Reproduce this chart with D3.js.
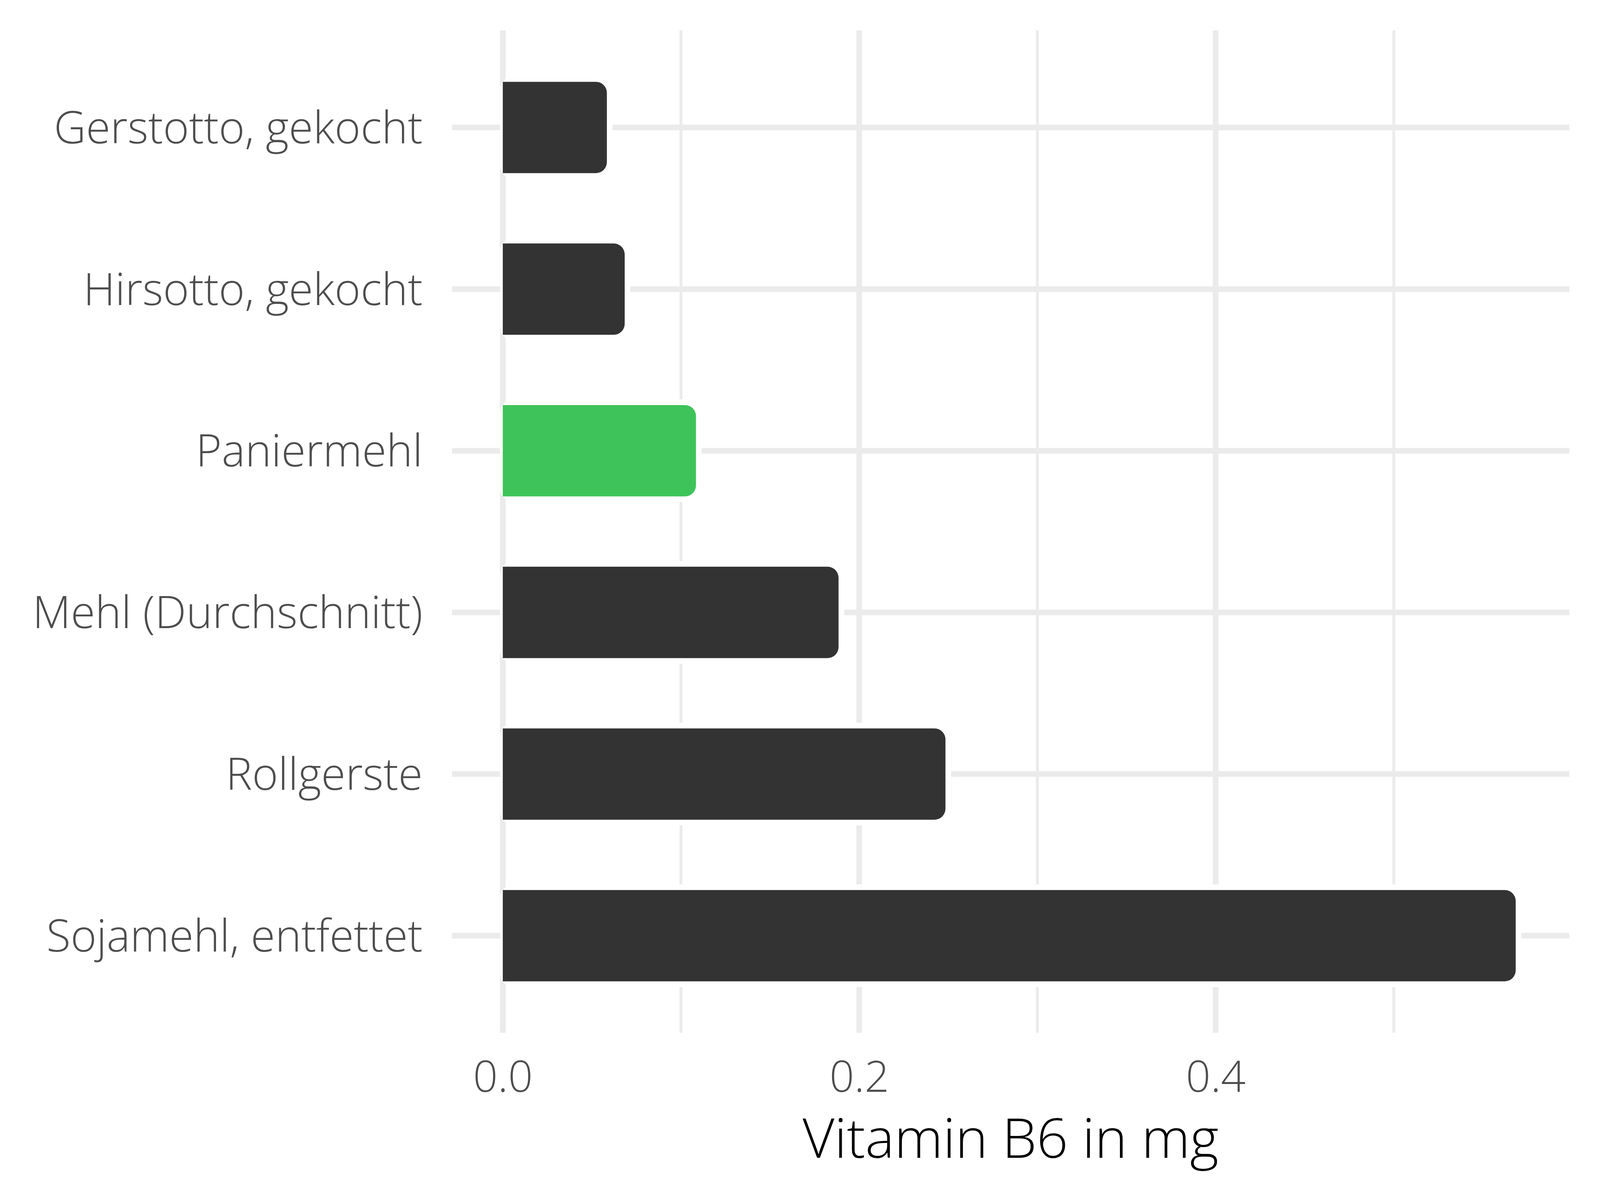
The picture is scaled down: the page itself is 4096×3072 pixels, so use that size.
<!DOCTYPE html>
<html><head><meta charset="utf-8">
<script src="https://cdn.jsdelivr.net/npm/d3@7"></script>
<style>html,body{margin:0;padding:0;background:#fff;overflow:hidden}</style>
</head><body>
<svg id="c" width="4096" height="3072"></svg>
<script>
const categories = ["Gerstotto, gekocht","Hirsotto, gekocht","Paniermehl","Mehl (Durchschnitt)","Rollgerste","Sojamehl, entfettet"];
const values = [0.06,0.07,0.11,0.19,0.25,0.57];
const highlight = ["Paniermehl"];
const majorTicks = [0,0.2,0.4];
const minorTicks = [0.1,0.3,0.5];
const tickLabels = ["0.0","0.2","0.4"];
const axisTitle = "Vitamin B6 in mg";

(function(){
const S = 4096/4800;
const svg = d3.select("#c");
svg.append("rect").attr("width",4096).attr("height",3072).attr("fill","#fff");
const g = svg.append("g").attr("transform",`scale(${S})`);

const pL=1356, pR=4708, pT=91.5, pB=3098;
const x = d3.scaleLinear().domain([-0.0285,0.5985]).range([pL,pR]);
const y = d3.scalePoint().domain(categories).range([pT,pB]).padding(0.6);
const step = y.step();
const bw = step*0.6, sw = 17;
const FONT = "'Open Sans', 'Noto Sans', sans-serif";

g.selectAll(".minor").data(minorTicks).join("line")
  .attr("x1",d=>x(d)).attr("x2",d=>x(d)).attr("y1",pT).attr("y2",pB)
  .attr("stroke","#EBEBEB").attr("stroke-width",8.5);
g.selectAll(".majorx").data(majorTicks).join("line")
  .attr("x1",d=>x(d)).attr("x2",d=>x(d)).attr("y1",pT).attr("y2",pB)
  .attr("stroke","#EBEBEB").attr("stroke-width",17);
g.selectAll(".majory").data(categories).join("line")
  .attr("x1",pL).attr("x2",pR).attr("y1",d=>y(d)).attr("y2",d=>y(d))
  .attr("stroke","#EBEBEB").attr("stroke-width",17);

const data = categories.map((c,i)=>({c,v:values[i]}));
const R = 33;
function outline(d){
  const x0 = x(0)-sw/2, x1 = x(d.v)+sw/2, y0 = y(d.c)-bw/2-sw/2, y1 = y(d.c)+bw/2+sw/2;
  const r = R+sw/2;
  return `M${x0+r},${y0}H${x1-r}A${r},${r} 0 0 1 ${x1},${y0+r}V${y1-r}A${r},${r} 0 0 1 ${x1-r},${y1}H${x0+r}A${r},${r} 0 0 1 ${x0},${y1-r}V${y0+r}A${r},${r} 0 0 1 ${x0+r},${y0}Z`;
}
function fillPath(d){
  const x0 = x(0), x1 = x(d.v)-sw/2, y0 = y(d.c)-bw/2+sw/2, y1 = y(d.c)+bw/2-sw/2;
  const r = R;
  return `M${x0},${y0}H${x1-r}A${r},${r} 0 0 1 ${x1},${y0+r}V${y1-r}A${r},${r} 0 0 1 ${x1-r},${y1}H${x0}Z`;
}
g.selectAll(".bo").data(data).join("path").attr("d",outline).attr("fill","#fff");
g.selectAll(".bf").data(data).join("path").attr("d",fillPath)
  .attr("fill",d=>highlight.includes(d.c)?"#3EC35A":"#333333");

const fsY = 133;
g.selectAll(".yl").data(categories).join("text")
  .attr("x",1268).attr("y",d=>y(d)+0.357*fsY)
  .attr("text-anchor","end").attr("font-family",FONT).attr("font-weight",300)
  .attr("font-size",fsY).attr("fill","#4D4D4D").text(d=>d);

const ax = g.append("g").attr("transform",`translate(0,${pB})`)
  .call(d3.axisBottom(x).tickValues(majorTicks).tickFormat((d,i)=>tickLabels[i]).tickSize(0));
ax.select(".domain").remove();
ax.selectAll("text").attr("y",3275-pB).attr("dy",null)
  .attr("font-family",FONT).attr("font-weight",300).attr("font-size",130).attr("fill","#4D4D4D");

g.append("text").attr("x",(pL+pR)/2).attr("y",3474).attr("text-anchor","middle")
  .attr("font-family",FONT).attr("font-weight",300).attr("font-size",165).attr("fill","#000").text(axisTitle);
})();
</script>
</body></html>
